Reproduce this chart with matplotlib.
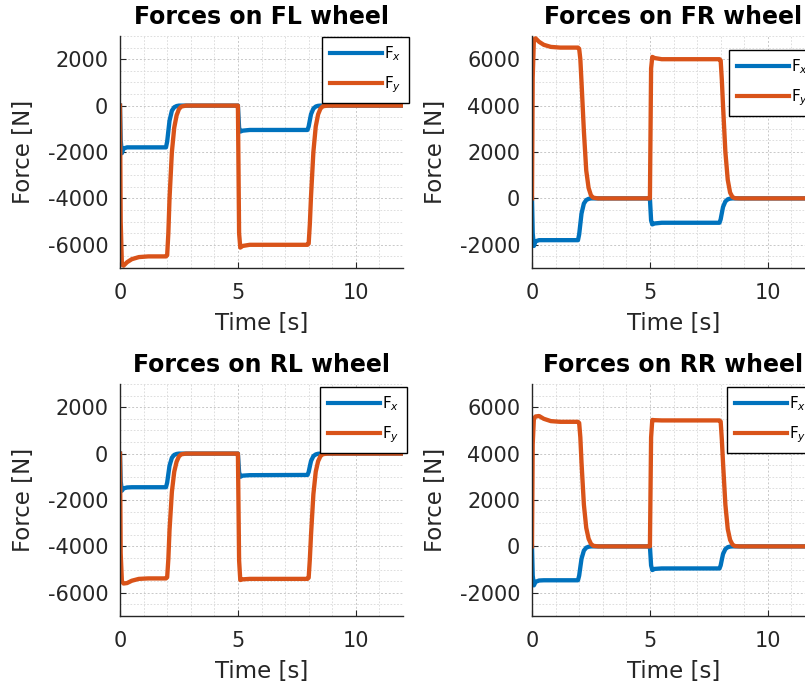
import matplotlib
matplotlib.use('Agg')
import matplotlib.pyplot as plt
from matplotlib.ticker import MultipleLocator

plt.rcParams['font.family'] = ['DejaVu Sans']
plt.rcParams['axes.unicode_minus'] = False
plt.rcParams['mathtext.fontset'] = 'dejavusans'

# ---- data ----
time_s = [0, 0.03, 0.08, 0.15, 0.3, 0.5, 0.8, 1.2, 1.95, 2.0, 2.05, 2.1, 2.2, 2.3,
          2.4, 2.5, 2.6, 2.8, 4.95, 5.0, 5.05, 5.1, 5.2, 5.5, 7.95, 8.0, 8.05,
          8.1, 8.2, 8.3, 8.4, 8.5, 8.6, 8.8, 12]

fl_fx = [0, -1500, -2050, -1850, -1800, -1800, -1800, -1800, -1800, -1550, -1100,
         -650, -220, -70, -20, 0, 0, 0, 0, 0, -950, -1120, -1080, -1050, -1050,
         -900, -630, -370, -130, -40, -10, 0, 0, 0, 0]
fl_fy = [0, -5000, -6850, -6900, -6750, -6620, -6530, -6500, -6500, -6450, -5500,
         -4000, -2000, -950, -420, -150, -40, 0, 0, 0, -5500, -6120, -6050, -6000,
         -6000, -5950, -5100, -3900, -2000, -900, -380, -130, -30, 0, 0]

fr_fx = [0, -1500, -2050, -1850, -1800, -1800, -1800, -1800, -1800, -1550, -1100,
         -650, -220, -70, -20, 0, 0, 0, 0, 0, -950, -1120, -1080, -1050, -1050,
         -900, -630, -370, -130, -40, -10, 0, 0, 0, 0]
fr_fy = [0, 5200, 6850, 6900, 6750, 6620, 6530, 6500, 6500, 6450, 6000, 5000,
         2900, 1200, 450, 130, 30, 0, 0, 0, 5600, 6100, 6050, 6000, 6000, 5950,
         5100, 4000, 2000, 800, 250, 60, 10, 0, 0]

rl_fx = [0, -1200, -1600, -1500, -1460, -1450, -1450, -1450, -1450, -1250, -880,
         -520, -180, -55, -15, 0, 0, 0, 0, 0, -800, -1000, -950, -930, -920,
         -790, -550, -320, -110, -35, -8, 0, 0, 0, 0]
rl_fy = [0, -4300, -5500, -5600, -5580, -5480, -5400, -5380, -5380, -5330, -4550,
         -3300, -1650, -780, -350, -120, -30, 0, 0, 0, -4600, -5450, -5420, -5400,
         -5400, -5350, -4550, -3500, -1750, -780, -330, -110, -25, 0, 0]

rr_fx = [0, -1250, -1680, -1530, -1470, -1460, -1460, -1460, -1460, -1260, -890,
         -530, -180, -55, -15, 0, 0, 0, 0, 0, -820, -1020, -970, -950, -950,
         -820, -570, -330, -115, -35, -8, 0, 0, 0, 0]
rr_fy = [0, 4400, 5500, 5600, 5620, 5500, 5400, 5370, 5370, 5320, 4700, 3600,
         1800, 800, 330, 110, 25, 0, 0, 0, 4700, 5450, 5440, 5430, 5430, 5380,
         4600, 3600, 1800, 750, 280, 80, 15, 0, 0]

wheel_names = ['FL', 'FR', 'RL', 'RR']
series_fx = [fl_fx, fr_fx, rl_fx, rr_fx]
series_fy = [fl_fy, fr_fy, rl_fy, rr_fy]
y_limits = [(-7000, 3000), (-3000, 7000), (-7000, 3000), (-3000, 7000)]
legend_labels = ['F$_x$', 'F$_y$']

# ---- layout (pixels in an 805x692 canvas) ----
W, H = 805, 692
fig = plt.figure(figsize=(W / 100, H / 100), dpi=100, facecolor='white')
ax_px = [(120, 36), (532, 36), (120, 384), (532, 384)]  # left, top
ax_w, ax_h = 283, 232
leg_px = [(322, 37), (729, 50), (320, 387), (727, 387)]

c_fx = '#0072BD'
c_fy = '#D95319'
txt_c = '#262626'

for i, name in enumerate(wheel_names):
    l, t = ax_px[i]
    ax = fig.add_axes([l / W, 1 - (t + ax_h) / H, ax_w / W, ax_h / H])
    ax.plot(time_s, series_fx[i], color=c_fx, lw=3.1, label=legend_labels[0],
            solid_joinstyle='round')
    ax.plot(time_s, series_fy[i], color=c_fy, lw=3.1, label=legend_labels[1],
            solid_joinstyle='round')
    ax.set_xlim(0, 12)
    ax.set_ylim(*y_limits[i])
    ax.xaxis.set_major_locator(MultipleLocator(5))
    ax.xaxis.set_minor_locator(MultipleLocator(1))
    ax.yaxis.set_major_locator(MultipleLocator(2000))
    ax.yaxis.set_minor_locator(MultipleLocator(500))
    ax.grid(which='major', color='#c8c8c8', linestyle=(0, (2, 2)), lw=0.7)
    ax.grid(which='minor', color='#d8d8d8', linestyle=(0, (2, 2)), lw=0.6)
    ax.set_axisbelow(True)
    for s in ['top', 'right']:
        ax.spines[s].set_visible(False)
    for s in ['left', 'bottom']:
        ax.spines[s].set_color(txt_c)
        ax.spines[s].set_linewidth(1.0)
    ax.tick_params(which='major', direction='in', length=4, width=0.8,
                   colors=txt_c, labelsize=15)
    ax.tick_params(axis='x', which='major', pad=11)
    ax.tick_params(axis='y', which='major', pad=8.5)
    ax.tick_params(which='minor', length=0)
    ax.set_title(f'Forces on {name} wheel', fontsize=17, fontweight='bold',
                 color='black', pad=9)
    ax.set_xlabel('Time [s]', fontsize=16.5, color=txt_c)
    ax.set_ylabel('Force [N]', fontsize=16.5, color=txt_c)
    ax.xaxis.set_label_coords(0.5, -0.19)
    ax.yaxis.set_label_coords(-0.30, 0.5)
    lx, ly = leg_px[i]
    leg = ax.legend(loc='upper left',
                    bbox_to_anchor=((lx - l) / ax_w, 1 - (ly - t) / ax_h),
                    borderaxespad=0, fontsize=11, handlelength=3.4,
                    handletextpad=0.15, labelspacing=0.75, borderpad=0.5,
                    fancybox=False, framealpha=1, edgecolor='black')
    leg.get_frame().set_linewidth(1.0)
    for ln in leg.get_lines():
        ln.set_linewidth(3)

fig.savefig('out.png', dpi=100)
